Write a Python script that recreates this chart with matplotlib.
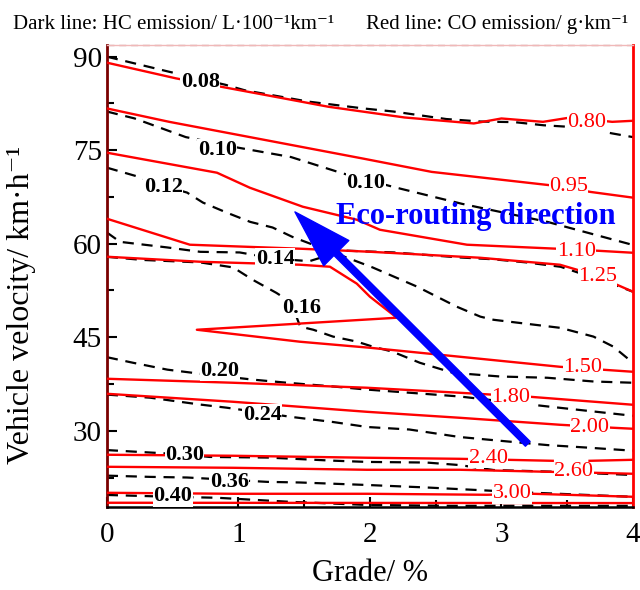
import numpy as np
import matplotlib
matplotlib.use('Agg')
import matplotlib.pyplot as plt
from matplotlib.ticker import MultipleLocator

plt.rcParams['font.family'] = ['Liberation Serif', 'DejaVu Serif']

nan = np.nan

# HC emission contours (black dashed), L/100km
hc_levels = ['0.08', '0.10', '0.12', '0.14', '0.16', '0.20', '0.24', '0.30', '0.36', '0.40']
hc_x = [
    [0, 0.47, 0.9, 1.05, 1.53, 1.95, 2.18, 2.58, 2.84, 3.1, 3.32, 3.63, 3.84, 4.0],
    [0, 0.21, 0.6, 1.0, 1.4, 1.79, 2.18, 2.7, 3.35, 4.0],
    [0, 0.23, 0.43, 0.61, 0.73, 0.91, 1.09, 1.26, 1.41, 2.02, 2.36, 2.66, 2.84, 2.94, 3.45, 3.70, 3.85, 4.0],
    [0, 0.10, 0.46, 0.71, 1.01, 1.28, 1.54, 1.80, 2.18, 2.43, 2.68, 2.94, 3.19, 3.45, 3.85, 4.0],
    [0, 0.27, 0.71, 0.96, 1.11, 1.29, 1.40, 1.47, 1.57, 1.72, 1.90, 2.02, 2.17, 2.38, 2.63, 2.99, 3.35, 3.70, 4.0],
    [0, 0.2, 0.46, 0.65, 1.11, 1.37, 1.72, 1.98, 2.30, 2.68, 3.35, 4.0],
    [0, 0.33, 0.71, 0.91, 1.41, 1.72, 1.98, 2.30, 2.68, 3.14, 3.35, 3.65, 4.0],
    [0, 0.25, 0.59, 0.78, 1.22, 1.72, 1.98, 2.43, 2.68, 2.94, 3.45, 4.0],
    [0, 0.33, 0.61, 1.22, 1.47, 1.98, 2.43, 2.81, 3.08, 4.0],
    [0, 0.5, 0.84, 1.39, 1.98, 2.61, 4.0],
]
hc_y = [
    [90.0, 87.6, 85.5, 84.6, 82.8, 81.7, 81.2, 80.0, 79.6, 79.5, 79.0, 78.6, 77.7, 77.1],
    [81.2, 80.1, 77.1, 75.4, 73.9, 71.3, 69.1, 66.4, 63.5, 59.8],
    [72.2, 70.8, 69.3, 68.2, 66.6, 65.0, 63.5, 62.6, 61.1, 56.2, 53.1, 49.9, 48.3, 47.8, 46.5, 45.1, 43.5, 40.9],
    [61.8, 60.3, 59.4, 58.7, 58.6, 57.6, 57.2, 58.9, 58.6, 58.2, 57.8, 57.5, 57.0, 56.3, 53.5, 52.3],
    [57.9, 57.4, 57.0, 56.2, 54.2, 52.1, 50.6, 46.7, 46.2, 45.1, 44.3, 43.5, 42.7, 40.9, 39.3, 38.7, 38.5, 37.9, 37.7],
    [41.8, 40.9, 39.8, 39.3, 38.2, 37.7, 37.1, 36.6, 36.1, 35.5, 33.9, 32.4],
    [35.8, 35.3, 34.2, 33.7, 32.2, 31.4, 30.6, 30.2, 29.0, 28.1, 27.7, 27.3, 26.8],
    [26.9, 26.6, 26.2, 25.8, 25.7, 25.2, 25.0, 24.9, 24.5, 23.7, 23.4, 22.9],
    [22.8, 22.6, 22.5, 21.8, 21.7, 21.3, 20.9, 20.5, 20.2, 19.4],
    [19.7, 19.4, 19.25, 18.6, 18.1, 17.96, 17.96],
]
hc_lab_text = ['0.08', '0.10', '0.10', '0.12', '0.14', '0.16', '0.20', '0.24', '0.30', '0.36', '0.40']
hc_lab_x = [0.71, 0.84, 1.97, 0.43, 1.28, 1.48, 0.86, 1.18, 0.59, 0.93, 0.50]
hc_lab_y = [86.0, 75.1, 69.8, 69.1, 57.6, 49.7, 39.6, 32.6, 26.1, 21.8, 19.5]

# CO emission contours (red solid), g/km
co_levels = ['0.80', '0.95', '1.10', '1.25', '1.50', '1.80', '2.00', '2.40', '2.60', '3.00', '']
co_x = [
    [0, 0.526, 1.21, 1.684, 2.263, 2.79, 3.0, 3.316, 3.526, 3.842, 4.0],
    [0, 0.474, 1.21, 1.947, 2.47, 3.37, 3.68, 4.0],
    [0, 0.837, 1.087, 1.49, 1.90, 2.076, 2.738, 3.42, 3.726, 4.0],
    [0, 0.631, 1.468, 2.0, 2.837, 3.445, 3.574, 3.878, 4.0],
    [0, 0.707, 1.468, 1.696, 1.90, 2.0, 2.205, 0.684, 1.468, 2.0, 2.684, 3.445, 4.0],
    [0, 0.958, 1.977, 2.684, 3.217, 4.0],
    [0, 0.958, 1.977, 2.684, 3.445, 3.848, 4.0],
    [0, 0.96, 1.98, 2.68, 3.04, 3.39, 3.55, 3.67, 4.0],
    [0, 0.958, 1.977, 2.684, 3.346, 3.70, 4.0],
    [0, 0.958, 1.977, 2.89, 3.24, 4.0],
    [0, 4.0],
]
co_y = [
    [89.04, 86.52, 83.84, 81.97, 80.25, 79.29, 80.09, 79.55, 80.25, 79.55, 79.72],
    [81.70, 79.55, 76.61, 73.66, 71.52, 69.38, 68.30, 67.39],
    [74.6, 71.39, 68.98, 65.93, 63.85, 62.24, 59.84, 59.20, 58.88, 58.55],
    [64.01, 59.84, 59.20, 58.71, 57.75, 56.63, 55.83, 53.42, 52.30],
    [57.91, 57.11, 56.63, 56.31, 53.6, 51.50, 48.13, 46.20, 44.28, 43.31, 41.87, 40.26, 39.46],
    [38.34, 37.70, 36.90, 36.09, 35.45, 34.17],
    [35.93, 34.65, 33.04, 32.08, 30.96, 30.48, 30.32],
    [26.15, 25.99, 25.67, 25.50, 25.34, 25.18, nan, 25.18, 25.34],
    [24.22, 24.06, 23.74, 23.74, 23.42, 23.26, 23.10],
    [20.05, 19.89, 19.89, 19.73, 19.89, 19.41],
    [18.45, 18.4],
]
co_lab_x = [3.65, 3.51, 3.57, 3.73, 3.62, 3.07, 3.67, 2.90, 3.55, 3.08]
co_lab_y = [79.4, 69.1, 58.7, 54.7, 40.1, 35.3, 30.5, 25.6, 23.4, 19.9]

arrow_tail = (3.2, 27.9)
arrow_head = (1.43, 65.1)

fig = plt.figure(figsize=(6.4, 5.9), dpi=100)
ax = fig.add_axes([0.167, 0.141, 0.822, 0.783])

for xs, ys in zip(hc_x, hc_y):
    ax.plot(xs, ys, color='black', lw=1.6, linestyle=(0, (5, 3.5)), zorder=2)
for xs, ys in zip(co_x, co_y):
    ax.plot(xs, ys, color='red', lw=1.7, zorder=3)

lab_box = dict(facecolor='white', edgecolor='none', pad=0.3)
for t, x, y in zip(hc_lab_text, hc_lab_x, hc_lab_y):
    ax.text(x, y, t, color='black', fontsize=16, fontweight='bold',
            ha='center', va='center', bbox=lab_box, zorder=4)
for t, x, y in zip(co_levels, co_lab_x, co_lab_y):
    ax.text(x, y, t, color='red', fontsize=16,
            ha='center', va='center', bbox=lab_box, zorder=4)

ax.annotate('', xy=arrow_head, xytext=arrow_tail,
            arrowprops=dict(arrowstyle='simple,head_length=1.05,head_width=0.64,tail_width=0.12',
                            color='blue', mutation_scale=40, shrinkA=0, shrinkB=0),
            zorder=6)
ax.text(1.745, 64.3, 'Eco-routing direction', color='blue', fontsize=22,
        fontweight='bold', ha='left', va='center', zorder=7)

ax.set_xlim(0, 4)
ax.set_ylim(17.8, 91.9)
ax.xaxis.set_major_locator(MultipleLocator(1))
ax.xaxis.set_minor_locator(MultipleLocator(0.5))
ax.set_yticks([30, 45, 60, 75, 90])
ax.yaxis.set_minor_locator(MultipleLocator(7.5))
ax.tick_params(which='both', direction='in', top=False, right=False, width=1.5)
ax.tick_params(which='major', length=7, labelsize=21)
ax.tick_params(which='minor', length=5)
ax.tick_params(axis='x', pad=11)

ax.spines['left'].set_color('#7a0000')
ax.spines['left'].set_linewidth(2)
ax.spines['right'].set_color('red')
ax.spines['right'].set_linewidth(2)
ax.spines['bottom'].set_linewidth(1.8)
ax.spines['top'].set_color('#f0b8b8')
ax.spines['top'].set_linewidth(1)
ax.axhline(91.9, color='#c8a0a0', lw=1, linestyle=(0, (5, 3.5)), zorder=1, clip_on=False)

ax.set_xlabel('Grade/ %', fontsize=22, labelpad=8)
ax.set_ylabel('Vehicle velocity/ km·h⁻¹', fontsize=23)
ax.yaxis.set_label_coords(-0.135, 0.437)

fig.text(0.02, 0.959, 'Dark line: HC emission/ L·100⁻¹km⁻¹',
         fontsize=15, ha='left', va='center')
fig.text(0.572, 0.959, 'Red line: CO emission/ g·km⁻¹',
         fontsize=15, ha='left', va='center')

fig.savefig('out.png', dpi=100)
